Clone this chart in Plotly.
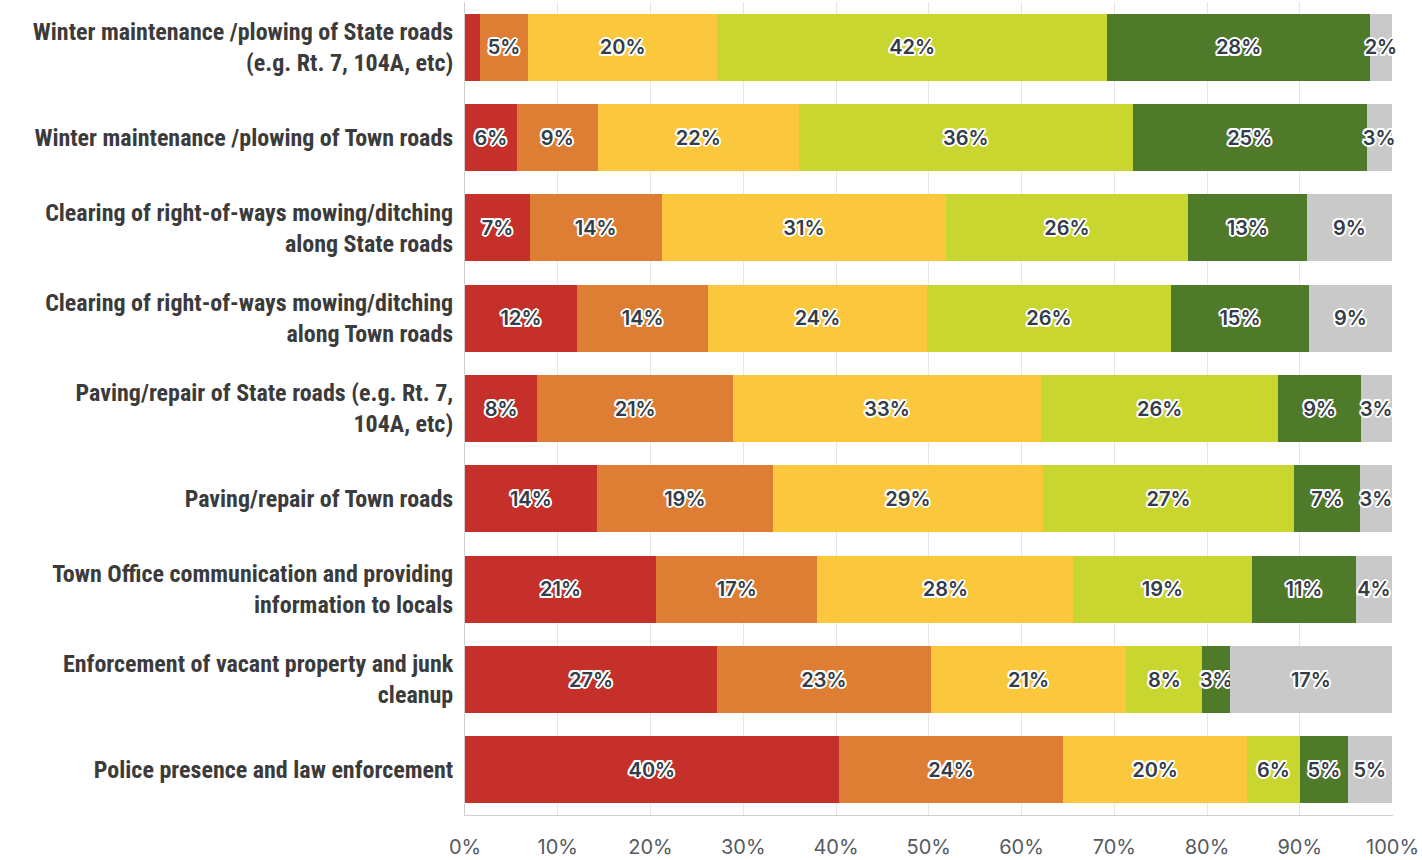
import plotly.graph_objects as go

categories = [
    "Winter maintenance /plowing of State roads<br>(e.g. Rt. 7, 104A, etc)",
    "Winter maintenance /plowing of Town roads",
    "Clearing of right-of-ways mowing/ditching<br>along State roads",
    "Clearing of right-of-ways mowing/ditching<br>along Town roads",
    "Paving/repair of State roads (e.g. Rt. 7,<br>104A, etc)",
    "Paving/repair of Town roads",
    "Town Office communication and providing<br>information to locals",
    "Enforcement of vacant property and junk<br>cleanup",
    "Police presence and law enforcement",
]

series_names = ["Very poor", "Poor", "Fair", "Good", "Excellent", "Don't know"]
red_vals    = [1.6, 5.6, 7.0, 12.1, 7.8, 14.2, 20.6, 27.2, 40.3]
orange_vals = [5.2, 8.7, 14.2, 14.1, 21.1, 19.0, 17.4, 23.0, 24.2]
yellow_vals = [20.4, 21.7, 30.7, 23.6, 33.2, 29.1, 27.6, 21.1, 19.8]
lime_vals   = [42.0, 36.0, 26.0, 26.3, 25.6, 27.1, 19.2, 8.2, 5.7]
dgreen_vals = [28.4, 25.2, 12.9, 14.9, 8.9, 7.1, 11.3, 3.0, 5.2]
gray_vals   = [2.3, 2.7, 9.1, 8.9, 3.3, 3.4, 3.8, 17.4, 4.7]
colors = ["#C5302A", "#DE7E34", "#FBC83D", "#C9D630", "#4F7A29", "#C9C9C9"]

tick_vals = [0, 10, 20, 30, 40, 50, 60, 70, 80, 90, 100]
tick_text = ["0%", "10%", "20%", "30%", "40%", "50%", "60%", "70%", "80%", "90%", "100%"]

all_series = [red_vals, orange_vals, yellow_vals, lime_vals, dgreen_vals, gray_vals]

shadow = ("-1.5px -1.5px 0 #fff, 1.5px -1.5px 0 #fff, -1.5px 1.5px 0 #fff, 1.5px 1.5px 0 #fff, "
          "0 2px 0 #fff, 0 -2px 0 #fff, 2px 0 0 #fff, -2px 0 0 #fff")

fig = go.Figure()
for name, vals, col in zip(series_names, all_series, colors):
    fig.add_trace(go.Bar(
        y=categories, x=vals, name=name, orientation="h",
        marker=dict(color=col, line=dict(width=0)),
        text=[f"{v:.0f}%" if v >= 2 else "" for v in vals],
        textposition="inside", insidetextanchor="middle",
        textangle=0, constraintext="none",
        textfont=dict(family="Inter, Roboto, sans-serif", size=20, color="#333c47",
                      weight=600, shadow=shadow),
        cliponaxis=False,
    ))

fig.update_layout(
    barmode="stack", bargap=0.26,
    width=1422, height=860,
    margin=dict(l=465, r=29, t=2, b=45),
    plot_bgcolor="white", paper_bgcolor="white",
    showlegend=False,
    uniformtext=dict(mode="show", minsize=20),
)
fig.update_xaxes(
    range=[0, 100.05], tickvals=tick_vals, ticktext=tick_text,
    showgrid=True, gridcolor="#E6E6E6", gridwidth=1,
    showline=True, linecolor="#D0D0D0", linewidth=1,
    zeroline=False, ticks="", ticklabelstandoff=14,
    tickfont=dict(family="Inter, Roboto, sans-serif", size=20, color="#555a60"),
)
fig.update_yaxes(
    autorange="reversed", showgrid=False,
    showline=True, linecolor="#D0D0D0", linewidth=1,
    ticks="", ticklabelstandoff=6,
    tickfont=dict(family="Roboto Condensed, Liberation Sans Narrow, Roboto, sans-serif",
                  size=24, color="#3b3b3b", weight="bold"),
)

fig.write_html(
    "out.html",
    config={"displayModeBar": False},
    post_script="document.body.style.margin='0';document.body.style.overflow='hidden';",
)
